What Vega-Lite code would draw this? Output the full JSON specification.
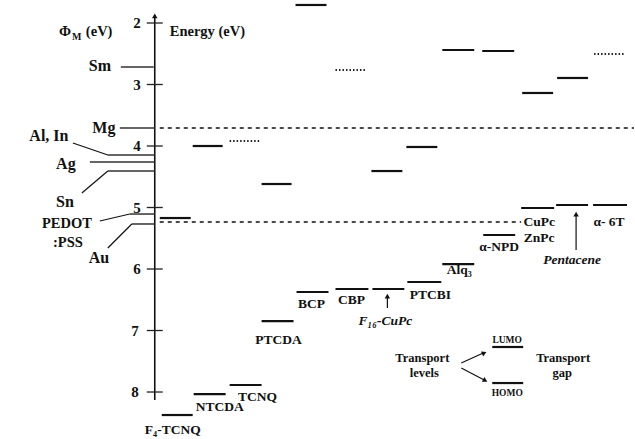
{
  "$schema": "https://vega.github.io/schema/vega-lite/v6.json",
  "width": 635,
  "height": 439,
  "autosize": {"type": "fit", "contains": "padding"},
  "padding": 0,
  "background": "white",
  "view": {"stroke": null},
  "config": {"text": {"font": "Liberation Serif", "fontWeight": "bold", "color": "#111", "baseline": "middle"}},
  "datasets": {
    "levels": [
      {"x":162,"x2":193,"e":8.374,"s":"solid"},
      {"x":160,"x2":191,"e":5.171,"s":"solid"},
      {"x":194,"x2":226,"e":8.033,"s":"solid"},
      {"x":193,"x2":223,"e":4.0,"s":"solid"},
      {"x":230,"x2":262,"e":7.886,"s":"solid"},
      {"x":230,"x2":260,"e":3.919,"s":"dot"},
      {"x":262,"x2":294,"e":6.846,"s":"solid"},
      {"x":262,"x2":292,"e":4.618,"s":"solid"},
      {"x":297,"x2":329,"e":6.374,"s":"solid"},
      {"x":296,"x2":327,"e":1.707,"s":"solid"},
      {"x":336,"x2":369,"e":6.325,"s":"solid"},
      {"x":336,"x2":366,"e":2.764,"s":"dot"},
      {"x":373,"x2":405,"e":6.325,"s":"solid"},
      {"x":372,"x2":403,"e":4.407,"s":"solid"},
      {"x":408,"x2":442,"e":6.211,"s":"solid"},
      {"x":407,"x2":438,"e":4.016,"s":"solid"},
      {"x":443,"x2":475,"e":5.919,"s":"solid"},
      {"x":443,"x2":475,"e":2.439,"s":"solid"},
      {"x":484,"x2":516,"e":5.447,"s":"solid"},
      {"x":483,"x2":515,"e":2.455,"s":"solid"},
      {"x":522,"x2":555,"e":5.008,"s":"solid"},
      {"x":523,"x2":554,"e":3.138,"s":"solid"},
      {"x":557,"x2":589,"e":4.959,"s":"solid"},
      {"x":558,"x2":589,"e":2.894,"s":"solid"},
      {"x":594,"x2":628,"e":4.959,"s":"solid"},
      {"x":595,"x2":625,"e":2.504,"s":"dot"},
      {"x":493,"x2":524,"e":7.268,"s":"solid"},
      {"x":493,"x2":524,"e":7.854,"s":"solid"}
    ],
    "dashed": [
      {"x":160,"x2":635,"e":3.707},
      {"x":160,"x2":522,"e":5.236}
    ],
    "segs": [
      {"x":155,"x2":155,"e":1.886,"e2":8.13,"k":"axis"},
      {"x":147,"x2":163,"e":2,"e2":2,"k":"tick"},
      {"x":147,"x2":163,"e":3,"e2":3,"k":"tick"},
      {"x":147,"x2":163,"e":4,"e2":4,"k":"tick"},
      {"x":147,"x2":163,"e":5,"e2":5,"k":"tick"},
      {"x":147,"x2":163,"e":6,"e2":6,"k":"tick"},
      {"x":147,"x2":163,"e":7,"e2":7,"k":"tick"},
      {"x":147,"x2":163,"e":8,"e2":8,"k":"tick"},
      {"x":121,"x2":154,"e":2.715,"e2":2.715,"k":"metal"},
      {"x":120,"x2":155,"e":3.707,"e2":3.707,"k":"metal"},
      {"x":108,"x2":155,"e":4.146,"e2":4.146,"k":"metal"},
      {"x":90,"x2":155,"e":4.26,"e2":4.26,"k":"metal"},
      {"x":108,"x2":155,"e":4.407,"e2":4.407,"k":"metal"},
      {"x":130,"x2":155,"e":5.106,"e2":5.106,"k":"metal"},
      {"x":132,"x2":155,"e":5.268,"e2":5.268,"k":"metal"},
      {"x":73,"x2":108,"e":3.951,"e2":4.146,"k":"leader"},
      {"x":82,"x2":108,"e":4.764,"e2":4.407,"k":"leader"},
      {"x":100,"x2":130,"e":5.22,"e2":5.106,"k":"leader"},
      {"x":108,"x2":132,"e":5.659,"e2":5.268,"k":"leader"},
      {"x":388,"x2":388,"e":6.439,"e2":6.634,"k":"leader"},
      {"x":577,"x2":577,"e":5.106,"e2":5.691,"k":"leader"},
      {"x":462,"x2":484,"e":7.528,"e2":7.366,"k":"leader"},
      {"x":462,"x2":485,"e":7.61,"e2":7.805,"k":"leader"}
    ],
    "heads": [
      {"x":155,"e":1.886,"k":"up"},
      {"x":388,"e":6.439,"k":"up"},
      {"x":577,"e":5.106,"k":"up"},
      {"x":485,"e":7.366,"k":"ur"},
      {"x":486,"e":7.813,"k":"dr"}
    ],
    "texts": [
      {"x":100,"e":2.699,"t":"Sm","k":"metal"},
      {"x":104,"e":3.707,"t":"Mg","k":"metal"},
      {"x":49,"e":3.837,"t":"Al, In","k":"metal"},
      {"x":66,"e":4.293,"t":"Ag","k":"metal"},
      {"x":65,"e":4.911,"t":"Sn","k":"metal"},
      {"x":67,"e":5.268,"t":"PEDOT","k":"pedot"},
      {"x":68,"e":5.577,"t":":PSS","k":"pedot"},
      {"x":99,"e":5.821,"t":"Au","k":"metal"},
      {"x":141,"e":2,"t":"2","k":"tick"},
      {"x":141,"e":3,"t":"3","k":"tick"},
      {"x":141,"e":4,"t":"4","k":"tick"},
      {"x":141,"e":5,"t":"5","k":"tick"},
      {"x":141,"e":6,"t":"6","k":"tick"},
      {"x":139,"e":7,"t":"7","k":"tick"},
      {"x":139,"e":8,"t":"8","k":"tick"},
      {"x":59,"e":2.146,"t":"Φ","k":"title"},
      {"x":86,"e":2.146,"t":"(eV)","k":"title"},
      {"x":170,"e":2.146,"t":"Energy (eV)","k":"title"},
      {"x":72,"e":2.22,"t":"M","k":"sub"},
      {"x":173,"e":8.618,"t":"F₄-TCNQ","k":"mat"},
      {"x":220,"e":8.244,"t":"NTCDA","k":"mat"},
      {"x":258,"e":8.081,"t":"TCNQ","k":"mat"},
      {"x":279,"e":7.154,"t":"PTCDA","k":"mat"},
      {"x":312,"e":6.569,"t":"BCP","k":"mat"},
      {"x":352,"e":6.504,"t":"CBP","k":"mat"},
      {"x":431,"e":6.423,"t":"PTCBI","k":"mat"},
      {"x":460,"e":6.016,"t":"Alq₃","k":"mat"},
      {"x":500,"e":5.642,"t":"α-NPD","k":"mat"},
      {"x":540,"e":5.236,"t":"CuPc","k":"mat"},
      {"x":540,"e":5.496,"t":"ZnPc","k":"mat"},
      {"x":610,"e":5.236,"t":"α- 6T","k":"mat"},
      {"x":386,"e":6.846,"t":"F₁₆-CuPc","k":"mati"},
      {"x":573,"e":5.854,"t":"Pentacene","k":"mati"},
      {"x":423,"e":7.447,"t":"Transport","k":"note"},
      {"x":425,"e":7.691,"t":"levels","k":"note"},
      {"x":564,"e":7.447,"t":"Transport","k":"note"},
      {"x":563,"e":7.691,"t":"gap","k":"note"},
      {"x":508,"e":7.154,"t":"LUMO","k":"small"},
      {"x":508,"e":8.016,"t":"HOMO","k":"small"}
    ]
  },
  "encoding": {
    "x": {"field": "x", "type": "quantitative", "axis": null, "scale": {"domain": [0, 635], "nice": false, "zero": false}},
    "y": {"field": "e", "type": "quantitative", "axis": null, "scale": {"domain": [1.626, 8.764], "nice": false, "zero": false, "reverse": true}}
  },
  "layer": [
    {
      "data": {"name": "levels"},
      "transform": [{"filter": "datum.s === 'solid'"}],
      "mark": {"type": "rule", "strokeWidth": 2.2, "color": "#111"},
      "encoding": {"x2": {"field": "x2"}}
    },
    {
      "data": {"name": "levels"},
      "transform": [{"filter": "datum.s === 'dot'"}],
      "mark": {"type": "rule", "strokeWidth": 1.8, "color": "#222", "strokeDash": [1.5, 2]},
      "encoding": {"x2": {"field": "x2"}}
    },
    {
      "data": {"name": "dashed"},
      "mark": {"type": "rule", "strokeWidth": 1.4, "color": "#111", "strokeDash": [4, 4]},
      "encoding": {"x2": {"field": "x2"}}
    },
    {
      "data": {"name": "segs"},
      "transform": [{"filter": "datum.k === 'axis'"}],
      "mark": {"type": "rule", "strokeWidth": 1.6, "color": "#111"},
      "encoding": {"x2": {"field": "x2"}, "y2": {"field": "e2"}}
    },
    {
      "data": {"name": "segs"},
      "transform": [{"filter": "datum.k === 'tick'"}],
      "mark": {"type": "rule", "strokeWidth": 1.3, "color": "#222"},
      "encoding": {"x2": {"field": "x2"}, "y2": {"field": "e2"}}
    },
    {
      "data": {"name": "segs"},
      "transform": [{"filter": "datum.k === 'metal'"}],
      "mark": {"type": "rule", "strokeWidth": 1.5, "color": "#333"},
      "encoding": {"x2": {"field": "x2"}, "y2": {"field": "e2"}}
    },
    {
      "data": {"name": "segs"},
      "transform": [{"filter": "datum.k === 'leader'"}],
      "mark": {"type": "rule", "strokeWidth": 1.2, "color": "#111"},
      "encoding": {"x2": {"field": "x2"}, "y2": {"field": "e2"}}
    },
    {
      "data": {"name": "heads"},
      "transform": [{"filter": "datum.k === 'up'"}],
      "mark": {"type": "point", "shape": "triangle-up", "filled": true, "size": 30, "color": "#111", "opacity": 1},
      "encoding": {}
    },
    {
      "data": {"name": "heads"},
      "transform": [{"filter": "datum.k === 'ur'"}],
      "mark": {"type": "point", "shape": "triangle-up", "filled": true, "size": 30, "angle": 66, "color": "#111", "opacity": 1},
      "encoding": {}
    },
    {
      "data": {"name": "heads"},
      "transform": [{"filter": "datum.k === 'dr'"}],
      "mark": {"type": "point", "shape": "triangle-up", "filled": true, "size": 30, "angle": 118, "color": "#111", "opacity": 1},
      "encoding": {}
    },
    {
      "data": {"name": "texts"},
      "transform": [{"filter": "datum.k === 'metal'"}],
      "mark": {"type": "text", "fontSize": 16, "align": "center"},
      "encoding": {"text": {"field": "t"}}
    },
    {
      "data": {"name": "texts"},
      "transform": [{"filter": "datum.k === 'pedot'"}],
      "mark": {"type": "text", "fontSize": 14.5, "align": "center"},
      "encoding": {"text": {"field": "t"}}
    },
    {
      "data": {"name": "texts"},
      "transform": [{"filter": "datum.k === 'tick'"}],
      "mark": {"type": "text", "fontSize": 15, "align": "right"},
      "encoding": {"text": {"field": "t"}}
    },
    {
      "data": {"name": "texts"},
      "transform": [{"filter": "datum.k === 'title'"}],
      "mark": {"type": "text", "fontSize": 14.5, "align": "left"},
      "encoding": {"text": {"field": "t"}}
    },
    {
      "data": {"name": "texts"},
      "transform": [{"filter": "datum.k === 'sub'"}],
      "mark": {"type": "text", "fontSize": 10, "align": "left"},
      "encoding": {"text": {"field": "t"}}
    },
    {
      "data": {"name": "texts"},
      "transform": [{"filter": "datum.k === 'mat'"}],
      "mark": {"type": "text", "fontSize": 13.5, "align": "center"},
      "encoding": {"text": {"field": "t"}}
    },
    {
      "data": {"name": "texts"},
      "transform": [{"filter": "datum.k === 'mati'"}],
      "mark": {"type": "text", "fontSize": 13.5, "align": "center", "fontStyle": "italic"},
      "encoding": {"text": {"field": "t"}}
    },
    {
      "data": {"name": "texts"},
      "transform": [{"filter": "datum.k === 'note'"}],
      "mark": {"type": "text", "fontSize": 12.5, "align": "center"},
      "encoding": {"text": {"field": "t"}}
    },
    {
      "data": {"name": "texts"},
      "transform": [{"filter": "datum.k === 'small'"}],
      "mark": {"type": "text", "fontSize": 9.5, "align": "center"},
      "encoding": {"text": {"field": "t"}}
    }
  ]
}
